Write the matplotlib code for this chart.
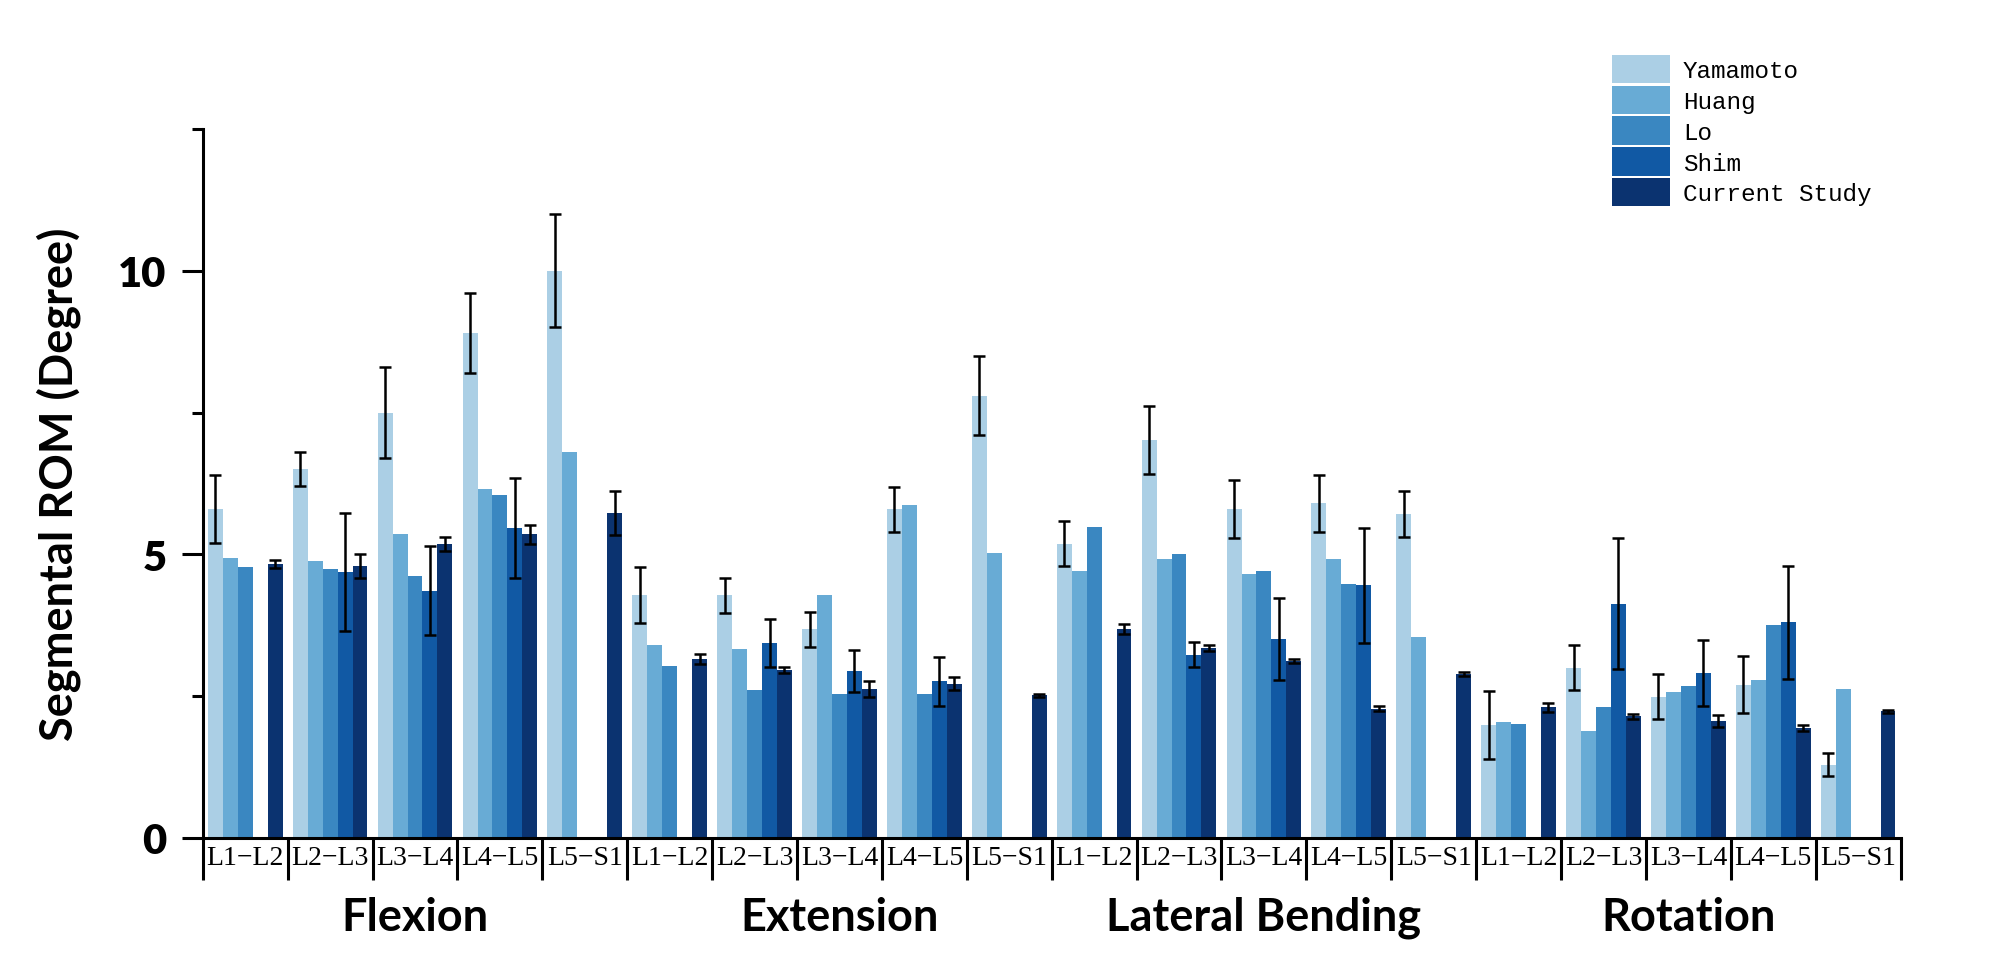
import numpy as np
import matplotlib
matplotlib.use("Agg")
import matplotlib.pyplot as plt
from matplotlib.patches import Patch

nan = np.nan

# categories
motions = ["Flexion", "Extension", "Lateral Bending", "Rotation"]
levels = ["L1−L2", "L2−L3", "L3−L4", "L4−L5", "L5−S1"]
studies = ["Yamamoto", "Huang", "Lo", "Shim", "Current Study"]
colors = ["#abcfe5", "#68abd5", "#3a87c1", "#1159a4", "#0b3370"]

# values (degree), 20 segments: 4 motions x 5 levels
yam = [5.80, 6.50, 7.50, 8.90, 10.0, 4.28, 4.28, 3.68, 5.79, 7.80,
       5.19, 7.01, 5.80, 5.90, 5.71, 1.99, 3.00, 2.49, 2.70, 1.29]
yam_err = [0.60, 0.30, 0.80, 0.70, 1.00, 0.50, 0.31, 0.31, 0.40, 0.70,
           0.40, 0.60, 0.51, 0.50, 0.41, 0.60, 0.40, 0.40, 0.50, 0.20]
huang = [4.94, 4.88, 5.36, 6.15, 6.80, 3.40, 3.33, 4.29, 5.87, 5.02,
         4.70, 4.91, 4.66, 4.91, 3.55, 2.04, 1.88, 2.58, 2.78, 2.63]
lo = [4.77, 4.74, 4.61, 6.05, nan, 3.03, 2.61, 2.53, 2.54, nan,
      5.48, 5.01, 4.70, 4.48, nan, 2.00, 2.30, 2.68, 3.75, nan]
shim = [nan, 4.69, 4.36, 5.47, nan, nan, 3.44, 2.95, 2.76, nan,
        nan, 3.23, 3.51, 4.45, nan, nan, 4.13, 2.90, 3.80, nan]
shim_err = [nan, 1.04, 0.78, 0.88, nan, nan, 0.42, 0.37, 0.43, nan,
            nan, 0.22, 0.72, 1.01, nan, nan, 1.16, 0.58, 1.00, nan]
cur = [4.83, 4.79, 5.18, 5.35, 5.73, 3.16, 2.96, 2.63, 2.72, 2.51,
       3.68, 3.35, 3.12, 2.28, 2.89, 2.30, 2.14, 2.06, 1.94, 2.23]
cur_err = [0.07, 0.21, 0.12, 0.16, 0.39, 0.09, 0.05, 0.14, 0.11, 0.03,
           0.09, 0.05, 0.04, 0.05, 0.03, 0.08, 0.05, 0.10, 0.05, 0.03]

series = [yam, huang, lo, shim, cur]
errors = [yam_err, None, None, shim_err, cur_err]

fig = plt.figure(figsize=(20.08, 9.79), dpi=100)
ax = fig.add_axes([0.101, 0.1432, 0.8455, 0.724])

n = len(yam)
idx = np.arange(n)
bw = 0.176
for j, (vals, err) in enumerate(zip(series, errors)):
    xs = idx + 0.06 + bw * (j + 0.5)
    vals = np.array(vals, dtype=float)
    ax.bar(xs, vals, width=bw, color=colors[j], edgecolor="none", zorder=2)
    if err is not None:
        ax.errorbar(xs, vals, yerr=np.array(err, dtype=float), fmt="none",
                    ecolor="black", elinewidth=1.8, capsize=4, capthick=1.8, zorder=3)

ax.set_xlim(0, n)
ax.set_ylim(0, 12.5)

for s in ["top", "right"]:
    ax.spines[s].set_visible(False)
for s in ["left", "bottom"]:
    ax.spines[s].set_linewidth(2.2)

ax.set_yticks([0, 5, 10])
ax.set_yticks([2.5, 7.5, 12.5], minor=True)
ax.set_yticklabels(["0", "5", "10"], fontfamily="Lato", fontweight="heavy", fontsize=30)
ax.tick_params(axis="y", which="major", length=15, width=2.2, pad=11)
ax.tick_params(axis="y", which="minor", length=8, width=2.2)

# group dividers below the axis, level labels in between
ax.set_xticks(np.arange(0, n + 1))
ax.set_xticklabels([])
ax.set_xticks(idx + 0.5, minor=True)
ax.set_xticklabels(levels * 4, minor=True, fontfamily="Liberation Serif", fontsize=20)
ax.tick_params(axis="x", which="major", length=30, width=2.2, direction="out")
ax.tick_params(axis="x", which="minor", length=0, pad=5)

for k, m in enumerate(motions):
    ax.text(k * 5 + 2.5, -0.112, m, transform=ax.get_xaxis_transform(),
            ha="center", va="center", fontfamily="Lato", fontweight="bold", fontsize=32.5)

fig.text(0.0294, 0.5056, "Segmental ROM (Degree)", rotation=90, ha="center", va="center",
         fontfamily="Lato", fontweight="bold", fontsize=32.5)

handles = [Patch(facecolor=c, edgecolor="none") for c in colors]
fig.legend(handles, studies, loc="upper left", bbox_to_anchor=(0.803, 0.943),
           frameon=False, prop={"family": "Liberation Mono", "size": 17.5},
           handlelength=2.35, handleheight=1.42, labelspacing=0.1, handletextpad=0.55,
           borderaxespad=0, borderpad=0)

fig.savefig("out.png", dpi=100)
